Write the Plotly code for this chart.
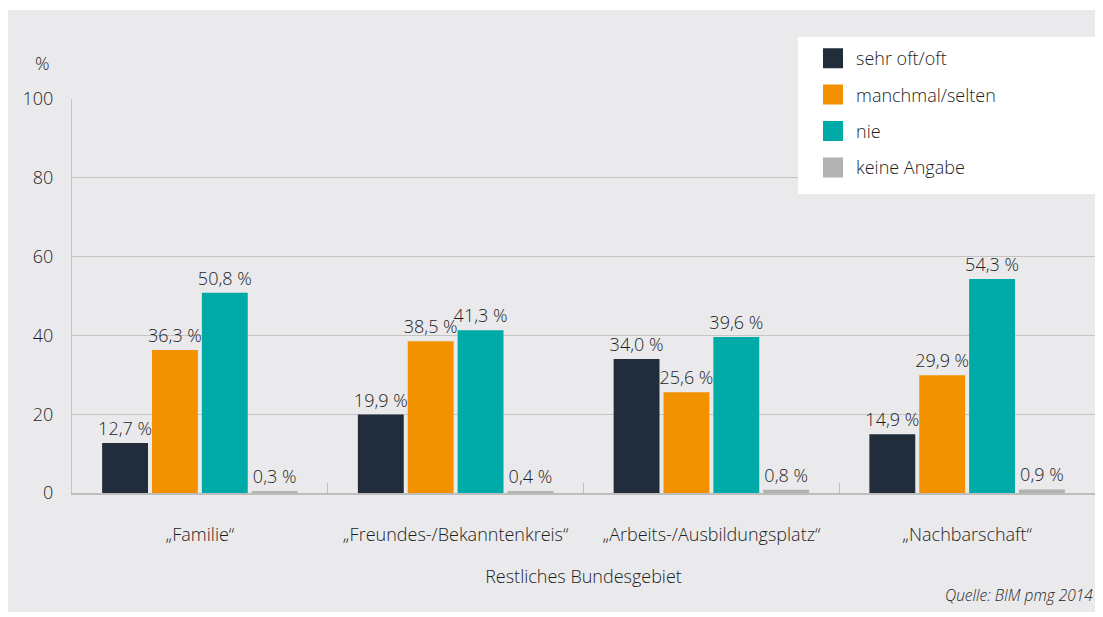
import plotly.graph_objects as go

categories = ["„Familie“", "„Freundes-/Bekanntenkreis“", "„Arbeits-/Ausbildungsplatz“", "„Nachbarschaft“"]
series_names = ["sehr oft/oft", "manchmal/selten", "nie", "keine Angabe"]
sehr_oft = [12.7, 19.9, 34.0, 14.9]
manchmal = [36.3, 38.5, 25.6, 29.9]
nie = [50.8, 41.3, 39.6, 54.3]
keine_angabe = [0.3, 0.4, 0.8, 0.9]
colors = ["#222d3b", "#f39200", "#00aaa6", "#b2b2b2"]
y_ticks = [0, 20, 40, 60, 80, 100]

FONT = "Open Sans"
TXT = "#1e1e1e"
FS = 18

def fmt(v):
    return f"{v:.1f}".replace(".", ",") + " %"

fig = go.Figure()
for name, vals, col in zip(series_names, [sehr_oft, manchmal, nie, keine_angabe], colors):
    fig.add_trace(go.Bar(
        name=name, x=categories, y=vals, marker_color=col, marker_line_width=0,
        text=[fmt(v) for v in vals], textposition="outside", textangle=0,
        constraintext="none",
        textfont=dict(family=FONT, size=FS, color=TXT, weight=300), cliponaxis=False,
        showlegend=False,
    ))
    # legend entry with a larger square swatch
    fig.add_trace(go.Scatter(
        name=name, x=[None], y=[None], mode="markers",
        marker=dict(symbol="square", size=17, color=col, line=dict(color=col, width=4)),
        legendgroup=name, showlegend=True,
    ))

OFF = 8  # browser body margin
W, H = 1103 - OFF, 617 - OFF
L, R, T, B = 72 - OFF, 8, 99 - OFF, 124
pw, ph = W - L - R, H - T - B

def px(x):
    return (x - OFF - L) / pw

def py(y):
    return (H - B - (y - OFF)) / ph

fig.update_layout(
    width=W, height=H,
    margin=dict(l=L, r=R, t=T, b=B, autoexpand=False),
    paper_bgcolor="white", plot_bgcolor="rgba(0,0,0,0)",
    font=dict(family=FONT, size=FS, color=TXT, weight=300),
    barmode="group", bargap=0.22, bargroupgap=0.08,
    legend=dict(
        x=px(810), y=py(40), xanchor="left", yanchor="top",
        bgcolor="rgba(0,0,0,0)", font=dict(family=FONT, size=18, color=TXT, weight=300),
        itemsizing="trace", tracegroupgap=10, traceorder="grouped",
        itemwidth=36, borderwidth=0,
    ),
    shapes=[
        dict(type="rect", xref="paper", yref="paper",
             x0=px(5), x1=px(1098), y0=py(612), y1=py(10),
             fillcolor="#eaeaec", line_width=0, layer="below"),
        dict(type="rect", xref="paper", yref="paper",
             x0=px(798), x1=px(1095), y0=py(194), y1=py(37),
             fillcolor="white", line_width=0, layer="above"),
    ],
    annotations=[
        dict(text="%", xref="paper", yref="paper", x=px(42), y=py(63),
             xanchor="center", yanchor="middle", showarrow=False,
             font=dict(family=FONT, size=FS, color=TXT, weight=300)),
        dict(text="<i>Quelle: BIM pmg 2014</i>", xref="paper", yref="paper",
             x=px(1095), y=py(595), xanchor="right", yanchor="middle",
             showarrow=False, font=dict(family=FONT, size=15.5, color=TXT, weight=300)),
    ],
)

fig.update_xaxes(
    showgrid=False, showline=True, linecolor="#bdbdbd", linewidth=2,
    ticks="inside", ticklen=10, tickcolor="#bdbdbd", tickwidth=1,
    tickson="boundaries", tickfont=dict(size=FS, color=TXT),
    ticklabelstandoff=24,
    title=dict(text="Restliches Bundesgebiet", standoff=26,
               font=dict(size=FS, color=TXT)),
    range=[-0.5, 3.5],
)
fig.update_yaxes(
    range=[0, 100], tickvals=y_ticks, showgrid=True, gridcolor="#c4c4c4",
    gridwidth=1, showline=True, linecolor="#c4c4c4", linewidth=1,
    zeroline=False, ticks="", tickfont=dict(size=FS, color=TXT),
    ticklabelstandoff=14,
)

fig.write_html("out.html")
